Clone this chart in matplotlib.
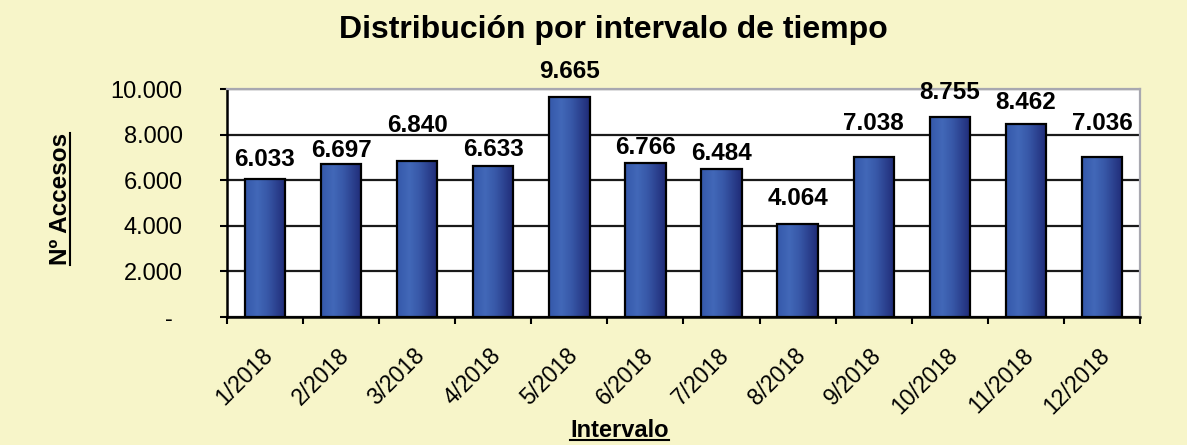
import matplotlib
matplotlib.use('Agg')
import matplotlib.pyplot as plt
import numpy as np
from matplotlib.colors import LinearSegmentedColormap
from matplotlib.lines import Line2D
from matplotlib.transforms import ScaledTranslation

# Datos
meses = ['1/2018', '2/2018', '3/2018', '4/2018', '5/2018', '6/2018',
         '7/2018', '8/2018', '9/2018', '10/2018', '11/2018', '12/2018']
accesos = [6033, 6697, 6840, 6633, 9665, 6766, 6484, 4064, 7038, 8755, 8462, 7036]
etiquetas = ['6.033', '6.697', '6.840', '6.633', '9.665', '6.766',
             '6.484', '4.064', '7.038', '8.755', '8.462', '7.036']
y_ticks = [0, 2000, 4000, 6000, 8000, 10000]
y_tick_labels = ['-', '2.000', '4.000', '6.000', '8.000', '10.000']

# posicion de las etiquetas sobre cada barra (pixeles), como en el original
label_off = [20, 14, 36, 16, 25, 15, 16, 26, 33, 25, 22, 33]

plt.rcParams['font.family'] = ['Liberation Sans', 'DejaVu Sans']

fondo = '#f7f5c9'
fig = plt.figure(figsize=(11.87, 4.45), dpi=100, facecolor=fondo)
ax = fig.add_axes([0.1912, 0.2876, 0.7692, 0.5124])
ax.set_facecolor('white')

grad = LinearSegmentedColormap.from_list(
    'barra', [(0, '#3558aa'), (0.3, '#4268b8'), (0.55, '#3858a8'), (1, '#1f2a76')])
g = np.linspace(0, 1, 256).reshape(1, -1)

x = np.arange(len(meses))
bars = ax.bar(x, accesos, width=0.53, facecolor='none', edgecolor='black',
              linewidth=1.6, zorder=3)
for b in bars:
    im = ax.imshow(g, cmap=grad, aspect='auto', zorder=2,
                   extent=[b.get_x(), b.get_x() + b.get_width(), 0, b.get_height()])
    im.set_clip_path(b)

for i, b in enumerate(bars):
    ax.annotate(etiquetas[i], (b.get_x() + b.get_width() / 2, b.get_height()),
                xytext=(0, label_off[i]), textcoords='offset pixels',
                ha='center', va='center', fontsize=17.5, fontweight='bold', zorder=4)

ax.set_xlim(-0.5, len(meses) - 0.5)
ax.set_ylim(0, 10000)

ax.set_axisbelow(True)
ax.yaxis.grid(True, color='#1a1a1a', linewidth=1.6)
ax.set_yticks(y_ticks)
ax.set_yticklabels(y_tick_labels, fontsize=17)
ax.tick_params(axis='y', length=5, width=1.5, pad=27)

ax.set_xticks(np.arange(-0.5, len(meses)))
ax.set_xticklabels([])
ax.set_xticks(x, minor=True)
ax.set_xticklabels(meses, minor=True, fontsize=16.5, rotation=45,
                   ha='right', va='center', rotation_mode='anchor')
ax.tick_params(axis='x', which='major', length=5, width=1.5)
ax.tick_params(axis='x', which='minor', length=0, pad=25)
for lab in ax.get_xticklabels(minor=True):
    lab.set_transform(lab.get_transform() + ScaledTranslation(3 / 72, 0, fig.dpi_scale_trans))

# el "-" del cero va algo mas a la izquierda
zero_lab = ax.get_yticklabels()[0]
zero_lab.set_transform(zero_lab.get_transform() + ScaledTranslation(-7 / 72, 0, fig.dpi_scale_trans))

for s in ['left', 'bottom']:
    ax.spines[s].set_color('black')
    ax.spines[s].set_linewidth(1.8)
for s in ['top', 'right']:
    ax.spines[s].set_color('#a8a8b0')
    ax.spines[s].set_linewidth(1.6)

fig.text(0.517, 0.932, 'Distribución por intervalo de tiempo', ha='center', va='center',
         fontsize=23, fontweight='bold')
ylab = fig.text(0.051, 0.553, 'Nº Accesos', ha='center', va='center', rotation=90,
                fontsize=17.5, fontweight='bold')
xlab = fig.text(0.522, 0.033, 'Intervalo', ha='center', va='center',
                fontsize=17, fontweight='bold')

# subrayado de los titulos de eje
fig.canvas.draw()
r = fig.canvas.get_renderer()
W, H = fig.bbox.width, fig.bbox.height
bb = xlab.get_window_extent(r)
fig.add_artist(Line2D([bb.x0 / W, bb.x1 / W], [(bb.y0 + 2) / H] * 2,
                      transform=fig.transFigure, color='black', linewidth=1.5))
bb = ylab.get_window_extent(r)
fig.add_artist(Line2D([(bb.x1 - 2) / W] * 2, [bb.y0 / H, bb.y1 / H],
                      transform=fig.transFigure, color='black', linewidth=1.5))

fig.savefig('out.png', dpi=100, facecolor=fondo)
